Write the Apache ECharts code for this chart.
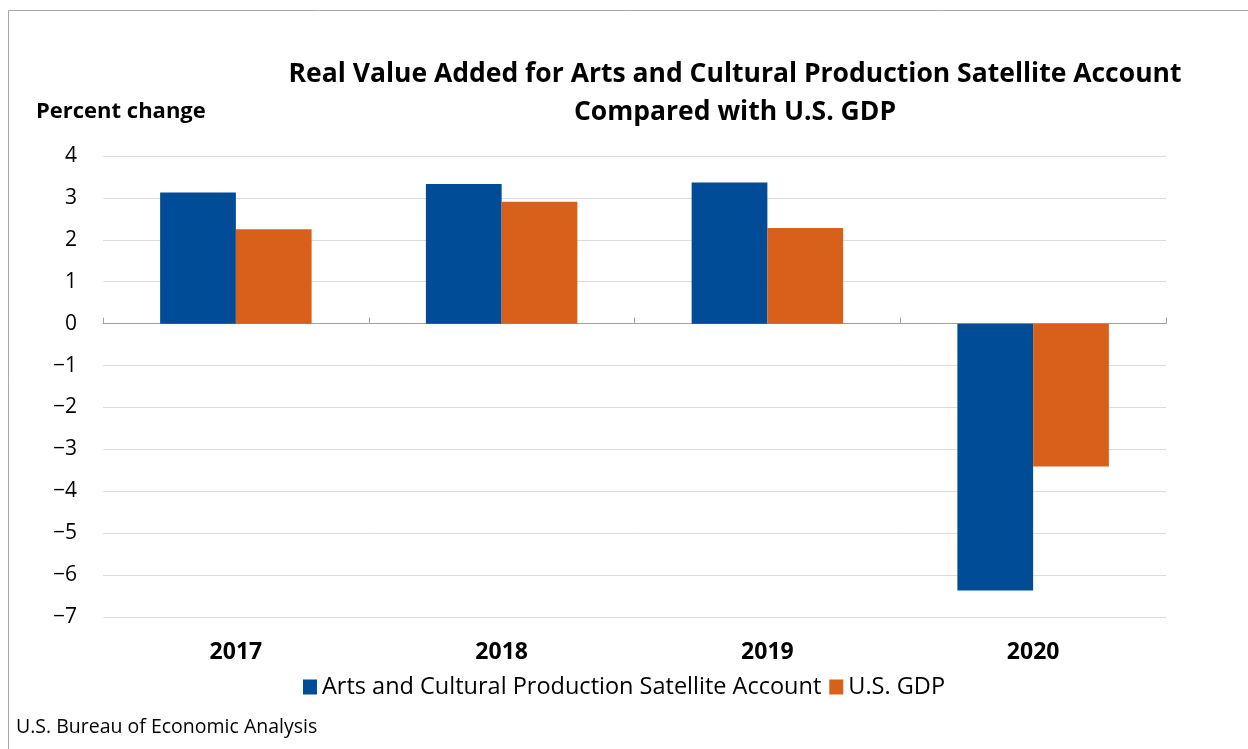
<!DOCTYPE html>
<html><head><meta charset="utf-8">
<script src="https://cdn.jsdelivr.net/npm/echarts@6/dist/echarts.min.js"></script>
<style>html,body{margin:0;padding:0;background:#fff}#c{width:1248px;height:749px}</style>
</head><body><div id="c"></div>
<script>
const categories = ['2017', '2018', '2019', '2020'];
const artsValues = [3.13, 3.33, 3.37, -6.37];
const gdpValues = [2.25, 2.91, 2.28, -3.41];
const seriesNames = ['Arts and Cultural Production Satellite Account', 'U.S. GDP'];
const yTicks = { min: -7, max: 4, interval: 1 };
const titleLines = ['Real Value Added for Arts and Cultural Production Satellite Account', 'Compared with U.S. GDP'];
const yAxisTitle = 'Percent change';
const sourceNote = 'U.S. Bureau of Economic Analysis';

const FONT = '"Open Sans", Lato, sans-serif';
const chart = echarts.init(document.getElementById('c'));
chart.setOption({
  animation: false,
  backgroundColor: '#fff',
  title: {
    text: titleLines.join('\n'),
    left: 730, top: 50, textAlign: 'center',
    textStyle: { fontFamily: FONT, fontWeight: 'bold', fontSize: 26.5, lineHeight: 38, color: '#000' }
  },
  graphic: [
    { type: 'rect', shape: { x: 8.5, y: 10.5, width: 1260, height: 760 }, style: { fill: 'none', stroke: '#a6a6a6', lineWidth: 1 } },
    { type: 'text', x: 36, y: 112, style: { text: yAxisTitle, fontFamily: FONT, fontWeight: 'bold', fontSize: 22, fill: '#000', verticalAlign: 'middle' } },
    { type: 'text', x: 16, y: 727, style: { text: sourceNote, fontFamily: FONT, fontSize: 19.5, fill: '#000', verticalAlign: 'middle' } }
  ],
  legend: {
    data: seriesNames, left: 'center', top: 670,
    itemWidth: 14, itemHeight: 15, itemGap: 8, icon: 'rect',
    textStyle: { fontFamily: FONT, fontSize: 23.5, color: '#000', padding: [0, 0, 0, 0] }
  },
  grid: { left: 103, right: 82, top: 156, bottom: 132 },
  xAxis: [
    { type: 'category', data: categories, position: 'bottom',
      axisLine: { show: true, onZero: true, lineStyle: { color: '#a0a0a0', width: 1 } },
      axisTick: { show: true, inside: true, length: 6, lineStyle: { color: '#a0a0a0' } },
      axisLabel: { show: false } },
    { type: 'category', data: categories, position: 'bottom',
      axisLine: { show: false, onZero: false }, axisTick: { show: false },
      axisLabel: { margin: 24, fontFamily: FONT, fontWeight: 'bold', fontSize: 23, color: '#000' } }
  ],
  yAxis: {
    type: 'value', min: yTicks.min, max: yTicks.max, interval: yTicks.interval,
    axisLine: { show: false }, axisTick: { show: false },
    splitLine: { lineStyle: { color: '#dcdcdc', width: 1 } },
    axisLabel: { margin: 26, fontFamily: FONT, fontSize: 21, color: '#000',
      formatter: v => String(v).replace('-', '\u2212') }
  },
  series: [
    { name: seriesNames[0], type: 'bar', xAxisIndex: 0, data: artsValues, barGap: '0%', barCategoryGap: '43%',
      itemStyle: { color: '#004C97' } },
    { name: seriesNames[1], type: 'bar', xAxisIndex: 0, data: gdpValues, barGap: '0%', barCategoryGap: '43%',
      itemStyle: { color: '#D9601A' } }
  ]
});
</script></body></html>
